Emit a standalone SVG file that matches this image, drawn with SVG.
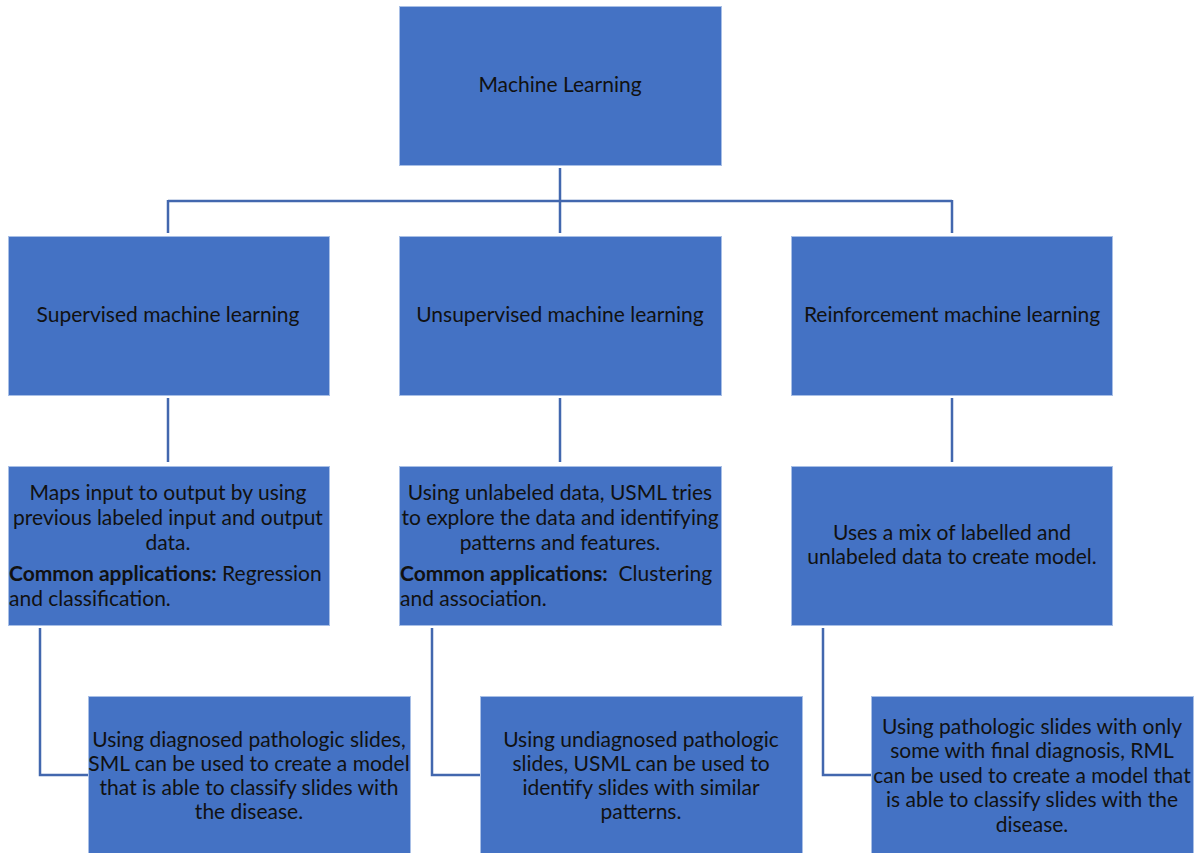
<svg xmlns="http://www.w3.org/2000/svg" width="1197" height="853" viewBox="0 0 1197 853">
<style>
.box{fill:#4472C4;stroke:#a8bfe6;stroke-width:1}
.t{font-family:Lato,"Open Sans",sans-serif;font-size:21px;fill:#111;text-anchor:middle}
.l{text-anchor:start}
.b{font-weight:bold}
.c{fill:none;stroke:#4267ae;stroke-width:2.5}
</style>
<rect width="1197" height="853" fill="#fff"/>
<g id="connectors">
<path class="c" d="M560 168V233M168 201H952M168 200V233M952 200V233"/>
<path class="c" d="M168 398V462M560 398V462M952 398V462"/>
<path class="c" d="M40 628V775H88M432 628V775H480M823 628V775H871"/>
</g>
<g id="ml"><rect class="box" x="399.5" y="6.5" width="322" height="159"/><text class="t" x="560" y="92">Machine Learning</text></g>
<g id="sml"><rect class="box" x="8.5" y="236.5" width="321" height="159"/><text class="t" x="168" y="322">Supervised machine learning</text></g>
<g id="usml"><rect class="box" x="399.5" y="236.5" width="322" height="159"/><text class="t" x="560" y="322">Unsupervised machine learning</text></g>
<g id="rml"><rect class="box" x="791.5" y="236.5" width="321" height="159"/><text class="t" x="952" y="322">Reinforcement machine learning</text></g>
<g id="sml-desc"><rect class="box" x="8.5" y="466.5" width="321" height="159"/>
<text class="t" x="168" y="500">Maps input to output by using</text>
<text class="t" x="168" y="525">previous labeled input and output</text>
<text class="t" x="168" y="550">data.</text>
<text class="t l" x="9" y="581"><tspan class="b">Common applications:</tspan> Regression</text>
<text class="t l" x="9" y="606">and classification.</text></g>
<g id="usml-desc"><rect class="box" x="399.5" y="466.5" width="322" height="159"/>
<text class="t" x="560" y="500">Using unlabeled data, USML tries</text>
<text class="t" x="560" y="525">to explore the data and identifying</text>
<text class="t" x="560" y="550">patterns and features.</text>
<text class="t l" x="400" y="581" xml:space="preserve"><tspan class="b">Common applications:</tspan>  Clustering</text>
<text class="t l" x="400" y="606">and association.</text></g>
<g id="rml-desc"><rect class="box" x="791.5" y="466.5" width="321" height="159"/>
<text class="t" x="952" y="540">Uses a mix of labelled and</text>
<text class="t" x="952" y="564">unlabeled data to create model.</text></g>
<g id="sml-ex"><rect class="box" x="88.5" y="696.5" width="322" height="160"/>
<text class="t" x="249" y="747">Using diagnosed pathologic slides,</text>
<text class="t" x="249" y="771">SML can be used to create a model</text>
<text class="t" x="249" y="795">that is able to classify slides with</text>
<text class="t" x="249" y="819">the disease.</text></g>
<g id="usml-ex"><rect class="box" x="480.5" y="696.5" width="322" height="160"/>
<text class="t" x="641" y="747">Using undiagnosed pathologic</text>
<text class="t" x="641" y="771">slides, USML can be used to</text>
<text class="t" x="641" y="795">identify slides with similar</text>
<text class="t" x="641" y="819">patterns.</text></g>
<g id="rml-ex"><rect class="box" x="871.5" y="696.5" width="322" height="160"/>
<text class="t" x="1032" y="734">Using pathologic slides with only</text>
<text class="t" x="1032" y="758">some with final diagnosis, RML</text>
<text class="t" x="1032" y="783">can be used to create a model that</text>
<text class="t" x="1032" y="807">is able to classify slides with the</text>
<text class="t" x="1032" y="832">disease.</text></g>
</svg>
